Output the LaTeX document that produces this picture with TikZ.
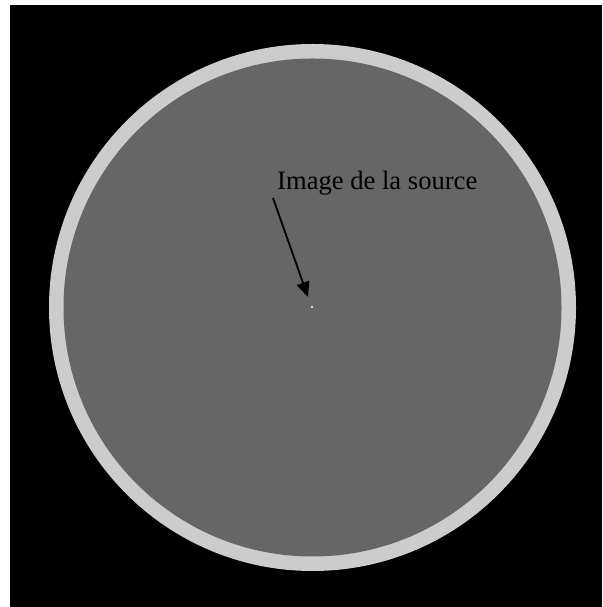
\documentclass[tikz,border=0pt]{standalone}
\usepackage{fontspec}
\setmainfont{Liberation Serif}
\usetikzlibrary{arrows.meta}
\definecolor{ringgray}{RGB}{204,204,204}
\definecolor{diskgray}{RGB}{102,102,102}
\tikzset{
  lbl/.style={anchor=base west, inner sep=0pt, font=\fontsize{26.6}{30}\selectfont, text=black},
  pointer/.style={line width=1.8pt, -{Triangle[length=15pt,width=13pt]}}
}
\begin{document}
\begin{tikzpicture}[x=1pt,y=1pt]
\useasboundingbox (0,0) rectangle (602,607);
\fill[white] (0,0) rectangle (602,607);
\fill[black] (10,0) rectangle (602,602);
\fill[ringgray] (312.5,299.5) circle[radius=263.5];
\fill[diskgray] (312.5,299.5) circle[radius=249];
\fill[white] (312,300) circle[radius=1.2];
\node[lbl] (label) at (277,417) {Image de la source};
\coordinate (start) at (273,409);
\coordinate (tip) at (308,310);
\draw[pointer] (start) -- (tip);
\end{tikzpicture}
\end{document}
